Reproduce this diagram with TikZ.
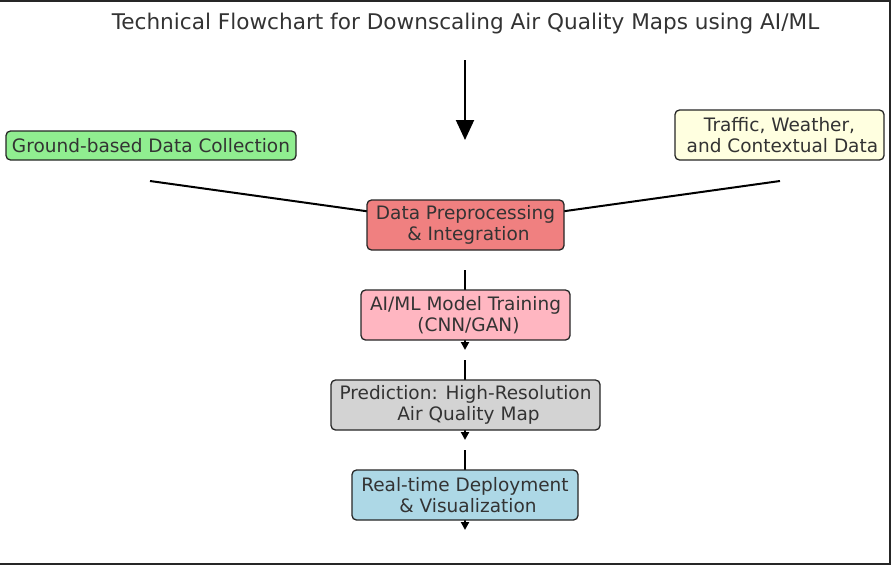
\documentclass[tikz,border=0pt]{standalone}
\usepackage{fontspec}
\setmainfont{DejaVu Sans}
\usetikzlibrary{arrows.meta,backgrounds}
\definecolor{txt}{HTML}{333333}
\definecolor{cgreen}{HTML}{90EE90}
\definecolor{cyellow}{HTML}{FFFFE0}
\definecolor{ccoral}{HTML}{F08080}
\definecolor{cpink}{HTML}{FFB6C1}
\definecolor{cgray}{HTML}{D3D3D3}
\definecolor{cblue}{HTML}{ADD8E6}
\tikzset{
  box/.style={draw=black!85, line width=1.3pt, rounded corners=4.5pt, text=txt,
    align=center, inner sep=0pt, font=\fontsize{18.5}{21.5}\selectfont},
  link/.style={line width=2pt, black},
  smallarrow/.style={line width=2pt, black, -{Triangle[width=8pt,length=8pt]}},
  bigarrow/.style={line width=2pt, black, -{Triangle[width=18pt,length=20pt]}},
}
\newcommand{\lsp}{\hspace*{0.318em}}
\begin{document}
\begin{tikzpicture}[x=1pt,y=-1pt]
\useasboundingbox (0,0) rectangle (891,565);
\draw[line width=1.8pt, black!85] (0,0.9) -- (889.6,0.9) -- (889.6,564) -- (0,564);
\node[text=txt, font=\fontsize{21.6}{25}\selectfont] (title) at (465.5,23.5)
  {Technical Flowchart for Downscaling Air Quality Maps using AI/ML};

\node[box, fill=cgreen, minimum width=290pt, minimum height=29pt] (ground) at (151,145.5)
  {Ground-based Data Collection};
\node[box, fill=cyellow, minimum width=209pt, minimum height=50pt] (traffic) at (779.5,135)
  {Traffic, Weather,\\\lsp and Contextual Data};
\node[box, fill=ccoral, minimum width=197pt, minimum height=50pt] (dp) at (465.5,225)
  {Data Preprocessing\\\lsp\& Integration};
\node[box, fill=cpink, minimum width=209pt, minimum height=50pt] (ai) at (465.5,315)
  {AI/ML Model Training\\\lsp(CNN/GAN)};
\node[box, fill=cgray, minimum width=269pt, minimum height=50pt] (pred) at (465.5,405)
  {Prediction: High-Resolution\\\lsp Air Quality Map};
\node[box, fill=cblue, minimum width=226pt, minimum height=50pt] (rt) at (465,495)
  {Real-time Deployment\\\lsp\& Visualization};

\coordinate (topS) at (465,60);
\coordinate (topE) at (465,140);
\coordinate (gS) at (150,181);
\coordinate (tS) at (780,181);
\coordinate (a1S) at (465,270);
\coordinate (a1E) at (465,350);
\coordinate (a2S) at (465,360);
\coordinate (a2E) at (465,440);
\coordinate (a3S) at (465,450);
\coordinate (a3E) at (465,530);

\begin{pgfonlayer}{background}
\draw[bigarrow] (topS) -- (topE);
\draw[link] (gS) -- (dp.center);
\draw[link] (tS) -- (dp.center);
\draw[smallarrow] (a1S) -- (a1E);
\draw[smallarrow] (a2S) -- (a2E);
\draw[smallarrow] (a3S) -- (a3E);
\end{pgfonlayer}
\end{tikzpicture}
\end{document}
